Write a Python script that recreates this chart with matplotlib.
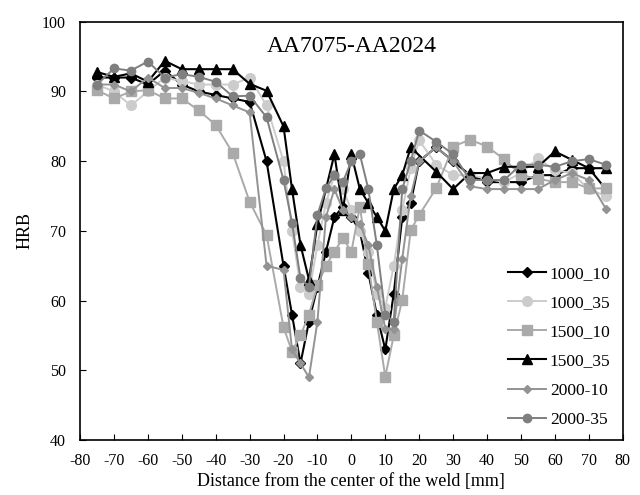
import matplotlib
matplotlib.use("Agg")
import matplotlib.pyplot as plt

# HRB profiles across the weld
x_1000_10 = [-75, -70, -65, -60, -55, -50, -45, -40, -35, -30, -25, -20, -17.5, -15, -12.5, -10, -7.5, -5, -2.5, 0,
             2.5, 5, 7.5, 10, 12.5, 15, 17.5, 20, 25, 30, 35, 40, 45, 50, 55, 60, 65, 70, 75]
y_1000_10 = [92, 92, 92, 91, 93, 91, 90, 89.5, 89, 88.5, 80, 65, 58, 51, 57, 62, 67, 72, 73.5, 72,
             70, 64, 58, 53, 61, 72, 74, 80, 82, 80, 78, 77, 77, 77, 78, 78, 79, 79, 76]

x_1000_35 = [-75, -70, -65, -60, -55, -50, -45, -40, -35, -30, -25, -20, -17.5, -15, -12.5, -10, -7.5, -5, -2.5, 0,
             2.5, 5, 7.5, 10, 12.5, 15, 17.5, 20, 25, 30, 35, 40, 45, 50, 55, 60, 65, 70, 75]
y_1000_35 = [91, 90, 88, 90, 92, 91.5, 91, 91, 91, 92, 88, 80, 70, 62, 61, 68, 74, 78, 76, 73,
             70, 67, 61, 59, 65, 73, 79, 83, 79.5, 78, 78, 77.5, 77, 78.3, 80.4, 78.7, 78.3, 76, 75]

x_1500_10 = [-75, -70, -65, -60, -55, -50, -45, -40, -35, -30, -25, -20, -17.5, -15, -12.5, -10, -7.5, -5, -2.5, 0,
             2.5, 5, 7.5, 10, 12.5, 15, 17.5, 20, 25, 30, 35, 40, 45, 50, 55, 60, 65, 70, 75]
y_1500_10 = [90.2, 89, 90, 90.2, 89, 89, 87.3, 85.2, 81.2, 74.2, 69.4, 56.2, 52.7, 55, 58, 62.2, 65, 67, 69, 67,
             73.5, 65.2, 57, 49.1, 55, 60.1, 70.1, 72.3, 76.1, 82.1, 83.1, 82.1, 80.3, 78, 77.5, 77, 77, 76.1, 76.1]

x_1500_35 = [-75, -70, -65, -60, -55, -50, -45, -40, -35, -30, -25, -20, -17.5, -15, -12.5, -10, -5, -2.5, 0,
             2.5, 5, 7.5, 10, 12.5, 15, 17.5, 25, 30, 35, 40, 45, 50, 55, 60, 65, 70, 75]
y_1500_35 = [92.8, 92.1, 92.6, 91.4, 94.4, 93.2, 93.2, 93.2, 93.2, 91.1, 90.1, 85, 76, 68, 63, 71, 81, 73, 81,
             76, 74, 72, 70, 76, 78, 82, 78.5, 76, 78.3, 78.3, 79.2, 79.2, 79.2, 81.4, 80.2, 79, 79]

x_2000_10 = [-75, -70, -65, -60, -55, -50, -45, -40, -35, -30, -25, -20, -17.5, -15, -12.5, -10, -7.5, -5, -2.5, 0,
             2.5, 5, 7.5, 10, 12.5, 15, 17.5, 20, 25, 30, 35, 40, 45, 50, 55, 60, 65, 70, 75]
y_2000_10 = [91, 91, 90, 92, 90.5, 90.5, 89.8, 89, 88, 87, 65, 64.4, 53, 51, 49, 57, 72, 76, 73, 72,
             71, 68, 62, 56, 56, 66, 75, 80, 82, 80, 76.4, 76, 76, 76, 76, 77.3, 78.3, 77.3, 73.2]

x_2000_35 = [-75, -70, -65, -60, -55, -50, -45, -40, -35, -30, -25, -20, -17.5, -15, -12.5, -10, -7.5, -5, -2.5, 0,
             2.5, 5, 7.5, 10, 12.5, 15, 17.5, 20, 25, 30, 35, 40, 45, 50, 55, 60, 65, 70, 75]
y_2000_35 = [91, 93.3, 93, 94.3, 92, 92.5, 92.1, 91.4, 89.3, 89.4, 86.3, 77.3, 71.2, 63.2, 62, 72.3, 76.1, 78, 77, 80,
             81, 76, 68, 58, 57, 76, 80, 84.4, 82.8, 81, 77.3, 77.3, 77.3, 79.5, 79.5, 79.2, 80, 80.3, 79.5]

xticks = list(range(-80, 81, 10))
yticks = list(range(40, 101, 10))

plt.rcParams['font.family'] = ['Liberation Serif', 'DejaVu Serif']
plt.rcParams['axes.unicode_minus'] = False

fig = plt.figure(figsize=(6.4, 4.95), dpi=100)
ax = fig.add_axes([0.125, 0.111, 0.848, 0.845])

ax.plot(x_1000_10, y_1000_10, color='black', marker='D', ms=5.5, lw=1.5, label='1000_10')
ax.plot(x_1000_35, y_1000_35, color='#cccccc', marker='o', ms=7, lw=1.4, label='1000_35')
ax.plot(x_1500_10, y_1500_10, color='#aaaaaa', marker='s', ms=6.5, lw=1.4, label='1500_10')
ax.plot(x_1500_35, y_1500_35, color='black', marker='^', ms=7, lw=1.5, label='1500_35')
ax.plot(x_2000_10, y_2000_10, color='#939393', marker='D', ms=4, lw=1.4, label='2000-10')
ax.plot(x_2000_35, y_2000_35, color='#7f7f7f', marker='o', ms=6, lw=1.4, label='2000-35')

ax.set_xlim(-80, 80)
ax.set_ylim(40, 100)
ax.set_xticks(xticks)
ax.set_yticks(yticks)
ax.tick_params(direction='in', labelsize=11.5, length=4)
ax.tick_params(axis='x', pad=9)
ax.tick_params(axis='y', pad=10)
for s in ax.spines.values():
    s.set_linewidth(1.2)

ax.set_xlabel('Distance from the center of the weld [mm]', fontsize=13, labelpad=3)
ax.set_ylabel('HRB', fontsize=13, labelpad=6)
ax.text(0.5, 0.965, 'AA7075-AA2024', transform=ax.transAxes, ha='center', va='top', fontsize=17)

ax.legend(loc='lower right', frameon=False, fontsize=12.5, labelspacing=0.75,
          handlelength=2.2, handletextpad=0.2, borderaxespad=0.3)

plt.savefig('out.png', dpi=100)
